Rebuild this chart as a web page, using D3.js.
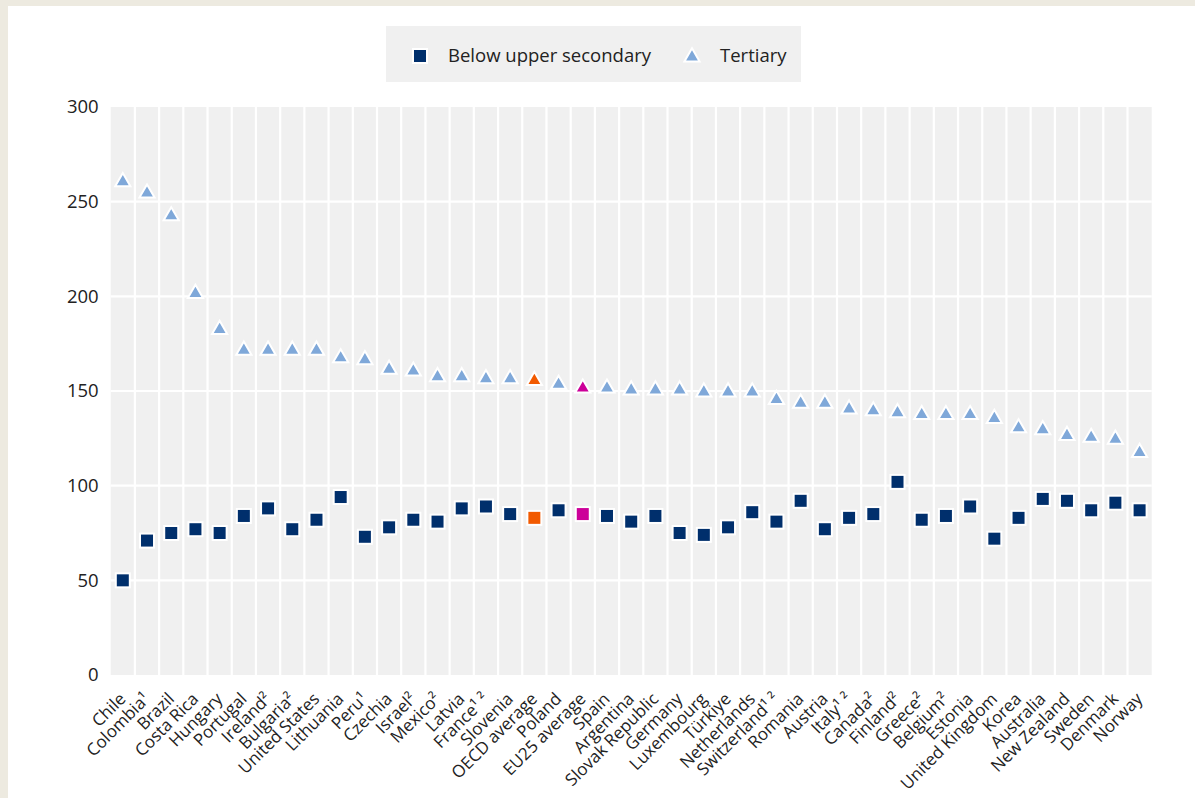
<!DOCTYPE html>
<html><head><meta charset="utf-8">
<script src="https://cdn.jsdelivr.net/npm/d3@7"></script>
<style>
html,body{margin:0;padding:0;background:#EDEAE0;}
svg{display:block;font-family:"Open Sans",sans-serif;}
</style></head><body>
<svg id="c" width="1195" height="798"></svg>
<script>
const categories = ["Chile","Colombia¹","Brazil","Costa Rica","Hungary","Portugal","Ireland²","Bulgaria²","United States","Lithuania","Peru¹","Czechia","Israel²","Mexico²","Latvia","France¹ ²","Slovenia","OECD average","Poland","EU25 average","Spain","Argentina","Slovak Republic","Germany","Luxembourg","Türkiye","Netherlands","Switzerland¹ ²","Romania","Austria","Italy¹ ²","Canada²","Finland²","Greece²","Belgium²","Estonia","United Kingdom","Korea","Australia","New Zealand","Sweden","Denmark","Norway"];
const belowUpperSecondary = [50,71,75,77,75,84,88,77,82,94,73,78,82,81,88,89,85,83,87,85,84,81,84,75,74,78,86,81,92,77,83,85,102,82,84,89,72,83,93,92,87,91,87];
const tertiary = [261,255,243,202,183,172,172,172,172,168,167,162,161,158,158,157,157,156,154,152,152,151,151,151,150,150,150,146,144,144,141,140,139,138,138,138,136,131,130,127,126,125,118];
const yTicks = [0,50,100,150,200,250,300];
const legendLabels = ["Below upper secondary","Tertiary"];

const svg = d3.select("#c");
svg.append("rect").attr("x",8).attr("y",6).attr("width",1195).attr("height",798).attr("fill","#fff");

const L=110.7, R=1151.7, T=107, B=675;
const x = d3.scaleBand().domain(categories).range([L,R]).paddingInner(0).paddingOuter(0);
const y = d3.scaleLinear().domain([0,300]).range([B,T]);

// plot background
svg.append("rect").attr("x",L).attr("y",T).attr("width",R-L).attr("height",B-T).attr("fill","#F0F0F0");
// vertical separators
svg.append("g").selectAll("line").data(categories.slice(1)).join("line")
  .attr("x1",d=>x(d)).attr("x2",d=>x(d)).attr("y1",T).attr("y2",B)
  .attr("stroke","#fff").attr("stroke-width",2.2);
// horizontal grid
svg.append("g").selectAll("line").data(yTicks.slice(1,-1)).join("line")
  .attr("x1",L).attr("x2",R).attr("y1",d=>y(d)).attr("y2",d=>y(d))
  .attr("stroke","#fff").attr("stroke-width",2.2);

// y axis
const yAxis = svg.append("g").attr("transform",`translate(${L-12},0)`)
  .call(d3.axisLeft(y).tickValues(yTicks).tickSize(0).tickPadding(0));
yAxis.select(".domain").remove();
yAxis.selectAll("text").attr("font-size",18.5).attr("fill","#222").attr("font-family","'Open Sans',sans-serif");

// x axis labels
const xAxis = svg.append("g").attr("transform",`translate(0,${B})`)
  .call(d3.axisBottom(x).tickSize(0).tickPadding(0));
xAxis.select(".domain").remove();
xAxis.selectAll("text")
  .attr("font-size",17).attr("fill","#222").attr("font-family","'Open Sans',sans-serif")
  .attr("text-anchor","end").attr("dy",null)
  .attr("transform","translate(4,25) rotate(-45)");

const colorSq = (d,i)=> categories[i]==="OECD average" ? "#F25A00" : categories[i]==="EU25 average" ? "#CC0099" : "#002F6C";
const colorTr = (d,i)=> categories[i]==="OECD average" ? "#F25A00" : categories[i]==="EU25 average" ? "#CC0099" : "#7FA8D9";

const tri = d3.symbol().type(d3.symbolTriangle).size(100);
svg.append("g").selectAll("path").data(tertiary).join("path")
  .attr("d",tri)
  .attr("transform",(d,i)=>`translate(${x(categories[i])+x.bandwidth()/2},${y(d)+1})`)
  .attr("fill",colorTr).attr("stroke","#fff").attr("stroke-width",2);

const sq = 14;
svg.append("g").selectAll("rect").data(belowUpperSecondary).join("rect")
  .attr("x",(d,i)=>x(categories[i])+x.bandwidth()/2-sq/2)
  .attr("y",d=>y(d)-sq/2).attr("width",sq).attr("height",sq)
  .attr("fill",colorSq).attr("stroke","#fff").attr("stroke-width",2);

// legend
const lg = svg.append("g");
lg.append("rect").attr("x",386).attr("y",26).attr("width",415).attr("height",56).attr("fill","#F0F0F0");
lg.append("rect").attr("x",413).attr("y",49).attr("width",14).attr("height",14).attr("fill","#002F6C").attr("stroke","#fff").attr("stroke-width",2);
lg.append("text").attr("x",448).attr("y",62).attr("font-size",18.5).attr("fill","#222").text(legendLabels[0]);
lg.append("path").attr("d",tri).attr("transform","translate(692,57)").attr("fill","#7FA8D9").attr("stroke","#fff").attr("stroke-width",2);
lg.append("text").attr("x",720).attr("y",62).attr("font-size",18.5).attr("fill","#222").text(legendLabels[1]);
</script>
</body></html>
